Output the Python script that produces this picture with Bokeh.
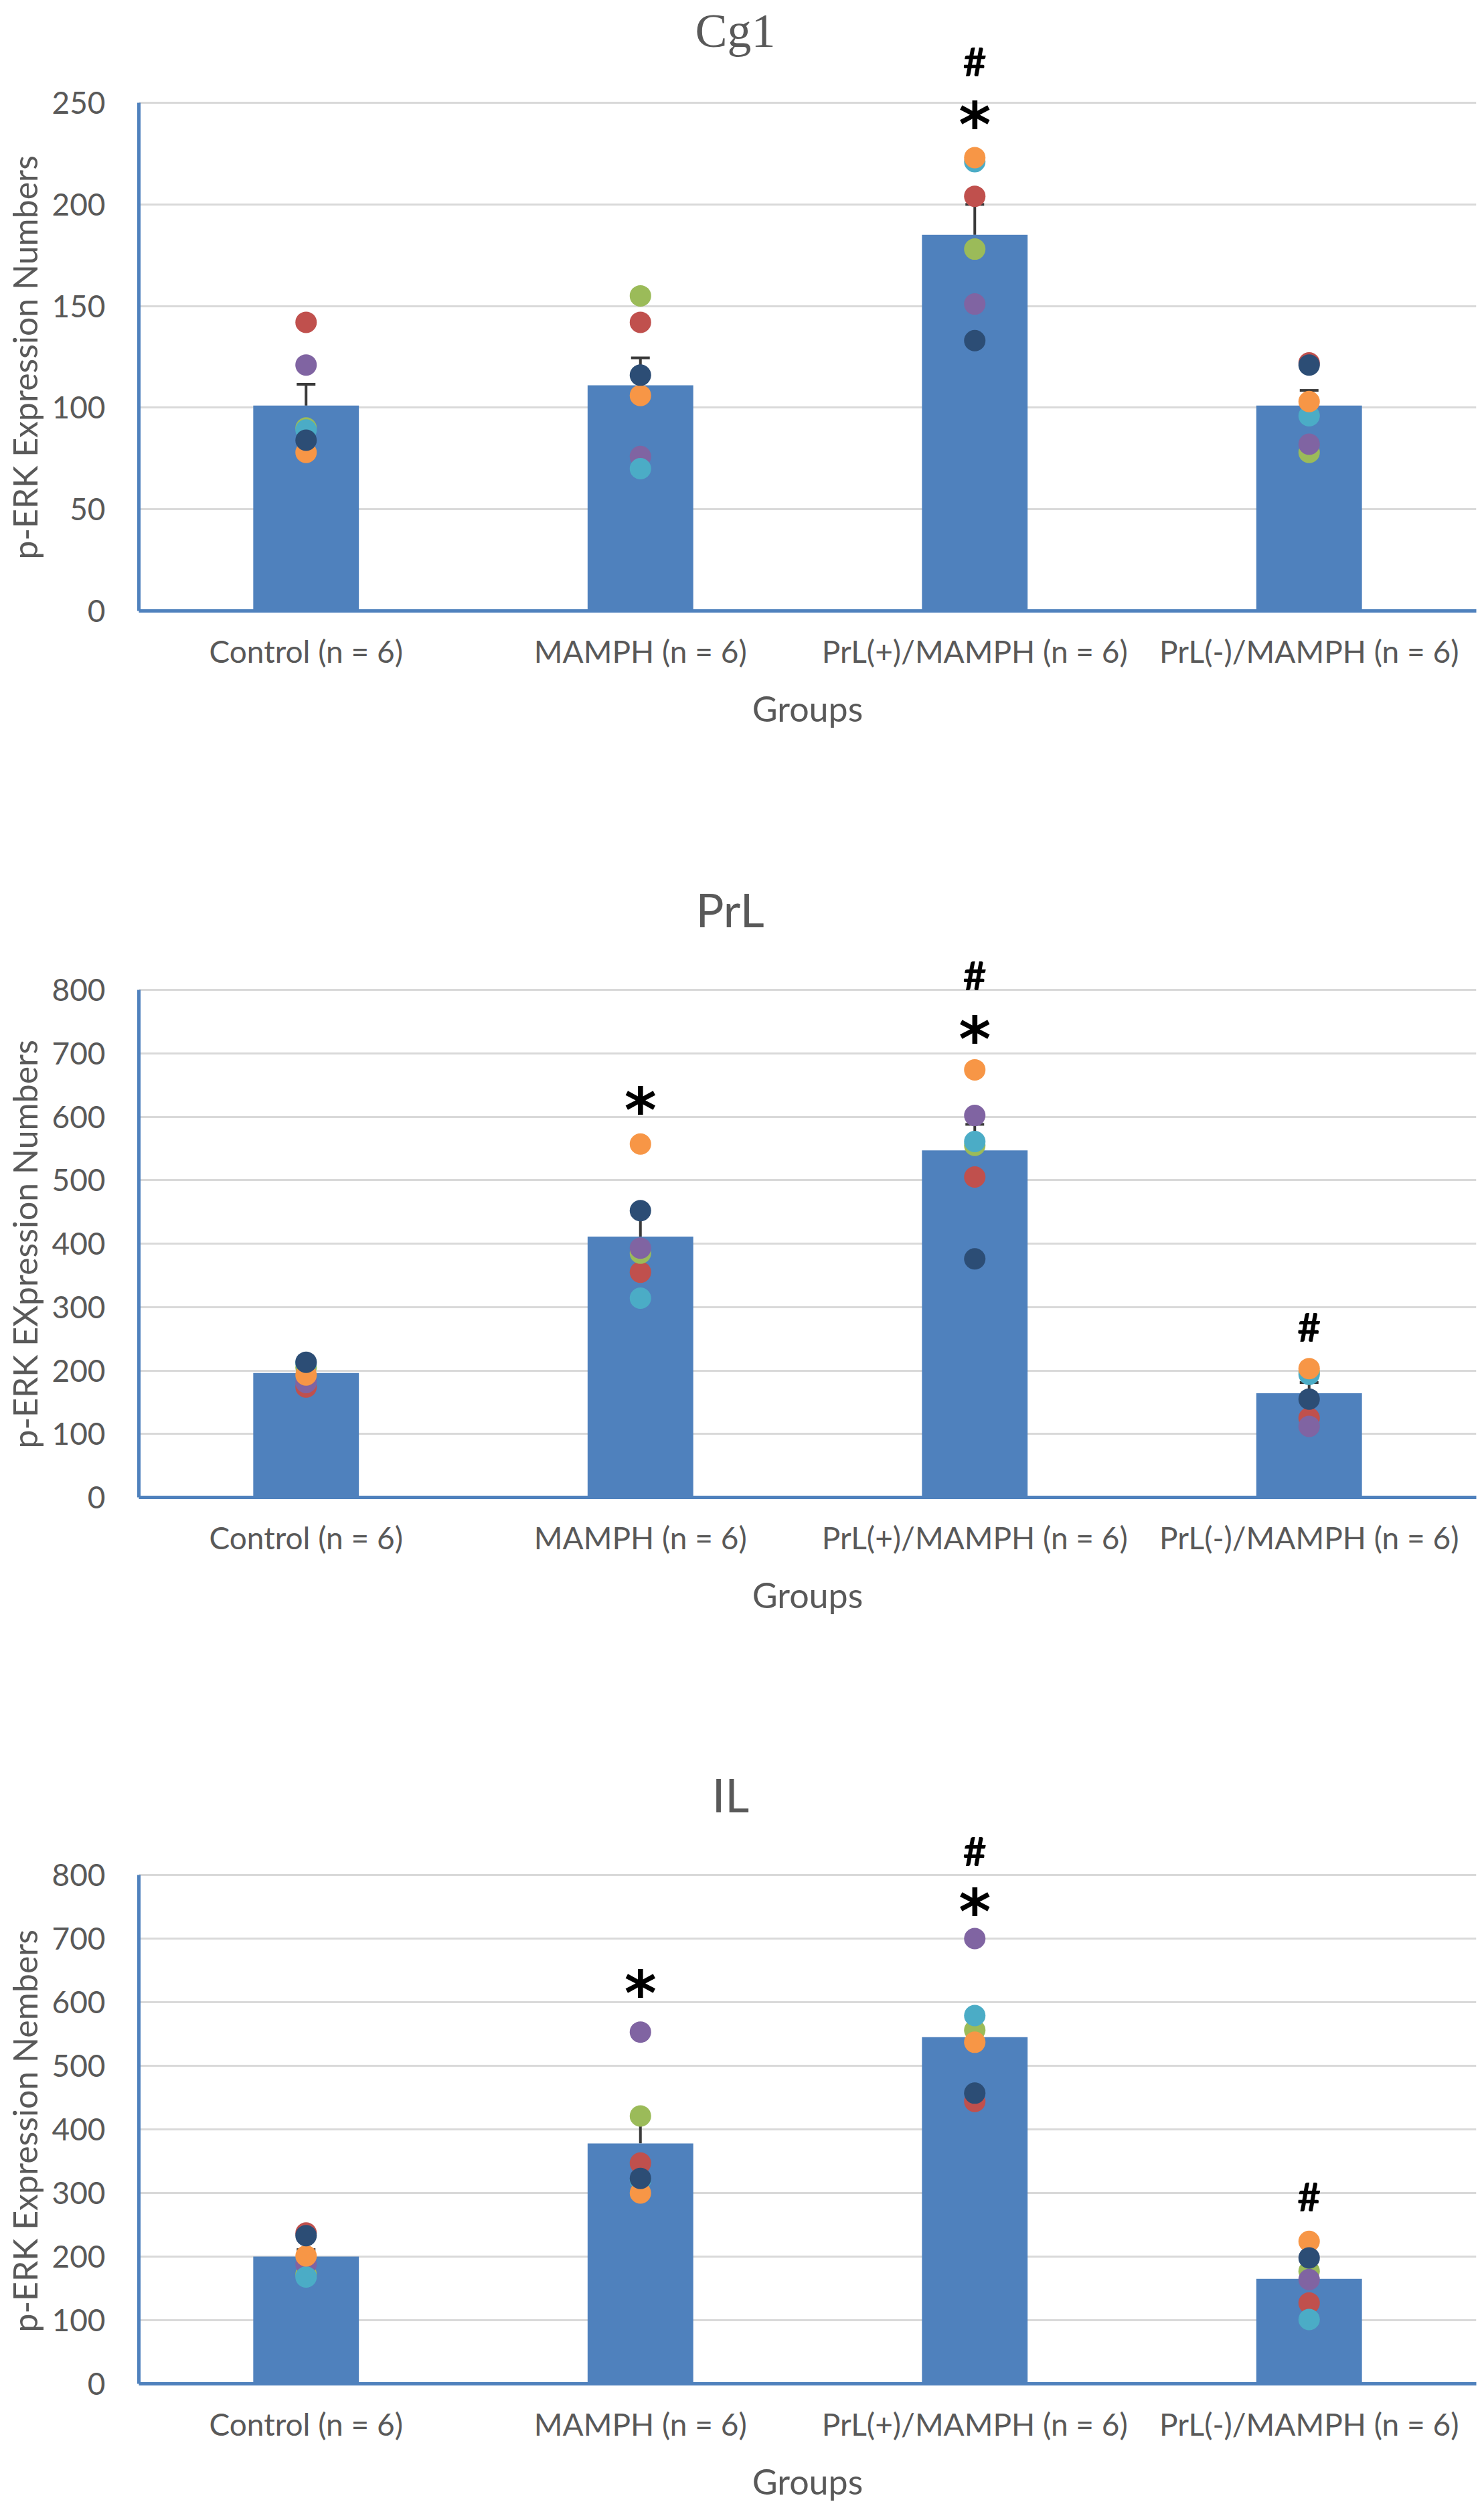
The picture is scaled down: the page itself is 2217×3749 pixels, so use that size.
from bokeh.plotting import figure
from bokeh.models import (ColumnDataSource, FactorRange, Range1d, FixedTicker, Whisker,
                          TeeHead, LabelSet, Label, Title)
from bokeh.layouts import column
from bokeh.embed import file_html
from bokeh.resources import INLINE
from bokeh.core.properties import value

# ---------------- data ----------------
groups = ["Control (n = 6)", "MAMPH (n = 6)", "PrL(+)/MAMPH (n = 6)", "PrL(-)/MAMPH (n = 6)"]
series_names = ["red", "green", "purple", "cyan", "orange", "navy"]

# Cg1
cg1_mean = [101, 111, 185, 101]
cg1_sem = [10.5, 13.5, 15, 7.5]
cg1_red = [142, 142, 204, 122]
cg1_green = [90, 155, 178, 78]
cg1_purple = [121, 76, 151, 82]
cg1_cyan = [89, 70, 221, 96]
cg1_orange = [78, 106, 223, 103]
cg1_navy = [84, 116, 133, 121]
cg1_ticks = [0, 50, 100, 150, 200, 250]
cg1_star_groups = ["PrL(+)/MAMPH (n = 6)"]
cg1_star_y = [245]
cg1_hash_groups = ["PrL(+)/MAMPH (n = 6)"]
cg1_hash_y = [270]

# PrL
prl_mean = [196, 411, 547, 164]
prl_sem = [7, 35, 41, 17]
prl_red = [174, 355, 505, 125]
prl_green = [205, 385, 555, 197]
prl_purple = [181, 393, 602, 112]
prl_cyan = [212, 314, 561, 194]
prl_orange = [193, 557, 674, 203]
prl_navy = [213, 452, 376, 155]
prl_ticks = [0, 100, 200, 300, 400, 500, 600, 700, 800]
prl_star_groups = ["MAMPH (n = 6)", "PrL(+)/MAMPH (n = 6)"]
prl_star_y = [628, 740]
prl_hash_groups = ["PrL(+)/MAMPH (n = 6)", "PrL(-)/MAMPH (n = 6)"]
prl_hash_y = [822, 268]

# IL
il_mean = [200, 378, 545, 165]
il_sem = [11, 39, 38, 18]
il_red = [237, 347, 444, 127]
il_green = [172, 421, 556, 177]
il_purple = [188, 553, 700, 164]
il_cyan = [168, 320, 579, 101]
il_orange = [201, 300, 537, 224]
il_navy = [233, 323, 457, 198]
il_ticks = [0, 100, 200, 300, 400, 500, 600, 700, 800]
il_star_groups = ["MAMPH (n = 6)", "PrL(+)/MAMPH (n = 6)"]
il_star_y = [632, 761]
il_hash_groups = ["PrL(+)/MAMPH (n = 6)", "PrL(-)/MAMPH (n = 6)"]
il_hash_y = [836, 293]

# ---------------- styles ----------------
dot_colors = {"red": "#C0504D", "green": "#9BBB59", "purple": "#8064A2",
              "cyan": "#4BACC6", "orange": "#F79646", "navy": "#2C4D75"}
BAR = "#4F81BD"
AXIS = "#4F81BD"
TXT = "#595959"
FONT = "Lato"
FIG_W = 2208


def make_panel(title, title_font, title_size, title_dx, title_dy, ylabel, ylabel_offset,
               ticks, mean, sem, dots, star_groups, star_y, hash_groups, hash_y, height,
               plot_px, top_px, b_bottom):
    ymax = ticks[-1]
    # the frame extends above the top tick so that title and marks stay visible
    y_end = ymax * (plot_px + top_px) / plot_px
    p = figure(x_range=FactorRange(*groups), y_range=Range1d(0, y_end),
               width=FIG_W, height=height, output_backend="svg", toolbar_location=None,
               min_border_left=207, min_border_right=3, min_border_top=0,
               min_border_bottom=b_bottom)
    p.x_range.range_padding = 0
    p.outline_line_color = None
    p.background_fill_color = "white"
    p.border_fill_color = "white"

    src = ColumnDataSource(dict(g=groups, mean=mean,
                                upper=[m + s for m, s in zip(mean, sem)]))
    p.vbar(x="g", top="mean", width=0.316, source=src, fill_color=BAR, line_color=None)

    w = Whisker(source=src, base="g", upper="upper", lower="mean", dimension="height",
                line_color="#3A3A3A", line_width=4,
                upper_head=TeeHead(size=28, line_color="#3A3A3A", line_width=4),
                lower_head=None, level="underlay")
    p.add_layout(w)

    for name, vals in zip(series_names, dots):
        p.scatter(x=groups, y=vals, size=32, fill_color=dot_colors[name], line_color=None)

    # grid
    p.xgrid.visible = False
    p.ygrid.grid_line_color = "#D9D9D9"
    p.ygrid.grid_line_width = 3

    # y axis
    ya = p.yaxis[0]
    ya.ticker = FixedTicker(ticks=ticks)
    ya.bounds = (0, ymax)
    ya.axis_line_color = AXIS
    ya.axis_line_width = 5
    ya.major_tick_line_color = None
    ya.minor_tick_line_color = None
    ya.major_tick_out = 0
    ya.major_tick_in = 0
    ya.major_label_standoff = 50
    ya.major_label_text_font = FONT
    ya.major_label_text_font_size = "46px"
    ya.major_label_text_color = TXT

    # y axis title, vertical, centred on the 0..ymax part of the axis
    yt = Title(text=ylabel, align="left", offset=ylabel_offset, vertical_align="top",
               standoff=12, text_font=FONT, text_font_size="50px",
               text_font_style="normal", text_color=TXT)
    p.add_layout(yt, "left")

    # x axis
    xa = p.xaxis[0]
    xa.axis_line_color = AXIS
    xa.axis_line_width = 5
    xa.major_tick_line_color = None
    xa.minor_tick_line_color = None
    xa.major_tick_out = 0
    xa.major_tick_in = 0
    xa.major_label_standoff = 32
    xa.major_label_text_font = FONT
    xa.major_label_text_font_size = "46px"
    xa.major_label_text_color = TXT
    xa.axis_label = "Groups"
    xa.axis_label_text_font = FONT
    xa.axis_label_text_font_size = "52px"
    xa.axis_label_text_font_style = "normal"
    xa.axis_label_text_color = TXT
    xa.axis_label_standoff = 24

    # title
    t = Label(x=len(groups) / 2, y=ymax, x_offset=title_dx, y_offset=title_dy, text=title,
              text_font=title_font, text_font_size=title_size, text_color=TXT,
              text_align="center", text_baseline="alphabetic")
    p.add_layout(t)

    # significance marks
    s_src = ColumnDataSource(dict(x=star_groups, y=star_y, t=["*"] * len(star_groups)))
    p.add_layout(LabelSet(x="x", y="y", text="t", source=s_src, text_align="center",
                          text_baseline="alphabetic", y_offset=-50,
                          text_font=value("DejaVu Sans"), text_font_style="bold",
                          text_font_size="92px", text_color="black"))
    h_src = ColumnDataSource(dict(x=hash_groups, y=hash_y, t=["#"] * len(hash_groups)))
    p.add_layout(LabelSet(x="x", y="y", text="t", source=h_src, text_align="center",
                          text_baseline="alphabetic", y_offset=-21,
                          text_font=value(FONT), text_font_style="bold",
                          text_font_size="60px", text_color="black"))
    return p


p1 = make_panel("Cg1", "Liberation Serif", "72px", -108, 108, "p-ERK Expression Numbers", 77,
                cg1_ticks, cg1_mean, cg1_sem,
                [cg1_red, cg1_green, cg1_purple, cg1_cyan, cg1_orange, cg1_navy],
                cg1_star_groups, cg1_star_y, cg1_hash_groups, cg1_hash_y,
                1150, 759, 153, 238)
p2 = make_panel("PrL", FONT, "70px", -116, 121, "p-ERK EXpression Numbers", 73,
                prl_ticks, prl_mean, prl_sem,
                [prl_red, prl_green, prl_purple, prl_cyan, prl_orange, prl_navy],
                prl_star_groups, prl_star_y, prl_hash_groups, prl_hash_y,
                1320, 758, 328, 234)
p3 = make_panel("IL", FONT, "70px", -115, 121, "p-ERK Expression Nembers", 77,
                il_ticks, il_mean, il_sem,
                [il_red, il_green, il_purple, il_cyan, il_orange, il_navy],
                il_star_groups, il_star_y, il_hash_groups, il_hash_y,
                1271, 760, 330, 181)

layout = column(p1, p2, p3)
open("out.html", "w").write(file_html(layout, INLINE))
